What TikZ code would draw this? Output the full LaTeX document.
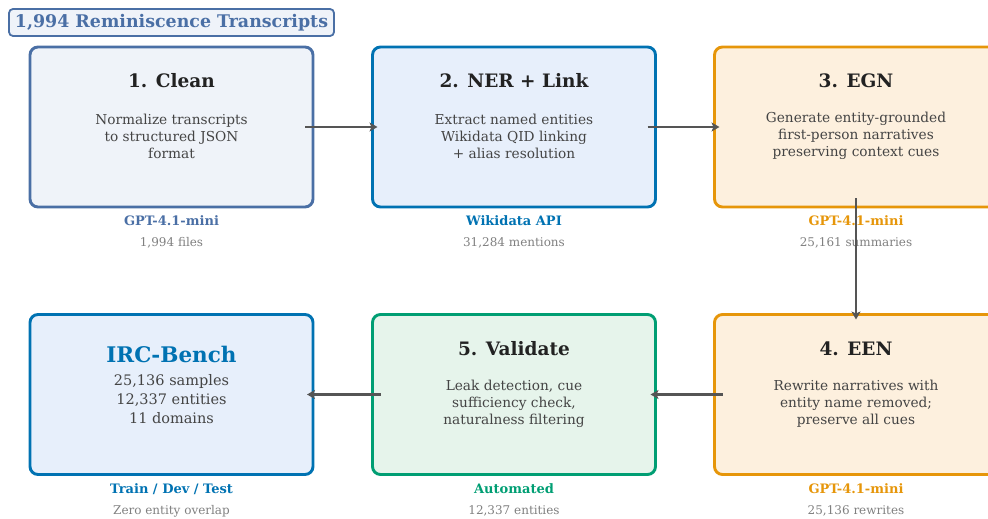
\documentclass[tikz,border=0pt]{standalone}
\usepackage{fontspec}
\setmainfont{DejaVu Serif}
\usetikzlibrary{arrows.meta}
\definecolor{cA}{RGB}{74,111,165}
\definecolor{fA}{RGB}{239,243,249}
\definecolor{cB}{RGB}{0,114,178}
\definecolor{fB}{RGB}{231,239,251}
\definecolor{cO}{RGB}{230,150,10}
\definecolor{fO}{RGB}{253,240,222}
\definecolor{cG}{RGB}{0,158,115}
\definecolor{fG}{RGB}{230,244,235}
\definecolor{bodyc}{RGB}{68,68,68}
\definecolor{titlec}{RGB}{34,34,34}
\definecolor{subc}{RGB}{128,128,128}
\definecolor{arrc}{RGB}{85,85,85}
\begin{document}
\begin{tikzpicture}[x=1pt,y=-1pt,
  stage/.style={draw, rounded corners=8pt, line width=2.9pt, minimum width=283pt, minimum height=160pt, inner sep=0pt, outer sep=0pt},
  stitle/.style={font=\fontsize{18.5}{22}\selectfont\bfseries, text=titlec},
  sbody/.style={font=\fontsize{13.7}{17}\selectfont, text=bodyc, align=center},
  slab/.style={font=\fontsize{13}{15}\selectfont\bfseries},
  ssub/.style={font=\fontsize{12}{14}\selectfont, text=subc},
  link/.style={draw=arrc, line width=2.5pt, -{Stealth[length=8pt,width=9pt,inset=2pt]}}]
\useasboundingbox (0,0) rectangle (988,519);
\clip (0,0) rectangle (988,519);
% header
\node[draw=cA, fill=fA, line width=1.8pt, rounded corners=4pt, minimum width=325pt, minimum height=27pt, inner sep=0pt,
  font=\fontsize{17.4}{20}\selectfont\bfseries, text=cA] (hdr) at (171.5,22.5) {1,994 Reminiscence Transcripts};
% boxes
\node[stage, draw=cA, fill=fA] (s1) at (171.5,127) {};
\node[stage, draw=cB, fill=fB] (s2) at (514,127) {};
\node[stage, draw=cO, fill=fO] (s3) at (856,127) {};
\node[stage, draw=cO, fill=fO] (s4) at (856,394.5) {};
\node[stage, draw=cG, fill=fG] (s5) at (514,394.5) {};
\node[stage, draw=cB, fill=fB] (s6) at (171.5,394.5) {};
% texts row 1
\node[stitle] (t1) at (171.5,81) {1. Clean};
\node[sbody] (b1) at (171.5,136) {Normalize transcripts\\to structured JSON\\format};
\node[slab, text=cA] (l1) at (171.5,221) {GPT-4.1-mini};
\node[ssub] (u1) at (171.5,243) {1,994 files};
\node[stitle] (t2) at (514,81) {2. NER + Link};
\node[sbody] (b2) at (514,136) {Extract named entities\\Wikidata QID linking\\+ alias resolution};
\node[slab, text=cB] (l2) at (514,221) {Wikidata API};
\node[ssub] (u2) at (514,243) {31,284 mentions};
\node[stitle] (t3) at (856,81) {3. EGN};
\node[sbody] (b3) at (856,136) {Generate entity-grounded\\first-person narratives\\preserving context cues};
\node[slab, text=cO] (l3) at (856,221) {GPT-4.1-mini};
\node[ssub] (u3) at (856,243) {25,161 summaries};
% texts row 2
\node[stitle] (t4) at (856,349) {4. EEN};
\node[sbody] (b4) at (856,404) {Rewrite narratives with\\entity name removed;\\preserve all cues};
\node[slab, text=cO] (l4) at (856,489) {GPT-4.1-mini};
\node[ssub] (u4) at (856,511) {25,136 rewrites};
\node[stitle] (t5) at (514,349) {5. Validate};
\node[sbody] (b5) at (514,404) {Leak detection, cue\\sufficiency check,\\naturalness filtering};
\node[slab, text=cG] (l5) at (514,489) {Automated};
\node[ssub] (u5) at (514,511) {12,337 entities};
\node[font=\fontsize{21.5}{25}\selectfont\bfseries, text=cB] (t6) at (171.5,354) {IRC-Bench};
\node[font=\fontsize{14.5}{19}\selectfont, text=bodyc, align=center] (b6) at (171.5,399.5) {25,136 samples\\12,337 entities\\11 domains};
\node[slab, text=cB] (l6) at (171.5,489) {Train / Dev / Test};
\node[ssub] (u6) at (171.5,511) {Zero entity overlap};
% arrows
\draw[link] ([xshift=-8pt]s1.east) -- ([xshift=5pt]s2.west);
\draw[link] ([xshift=-8pt]s2.east) -- ([xshift=5pt]s3.west);
\draw[link] ([yshift=9pt]s3.south) -- ([yshift=-5pt]s4.north);
\draw[link] ([xshift=8pt]s4.west) -- ([xshift=-5pt]s5.east);
\draw[link] ([xshift=8pt]s5.west) -- ([xshift=-6pt]s6.east);
\end{tikzpicture}
\end{document}
